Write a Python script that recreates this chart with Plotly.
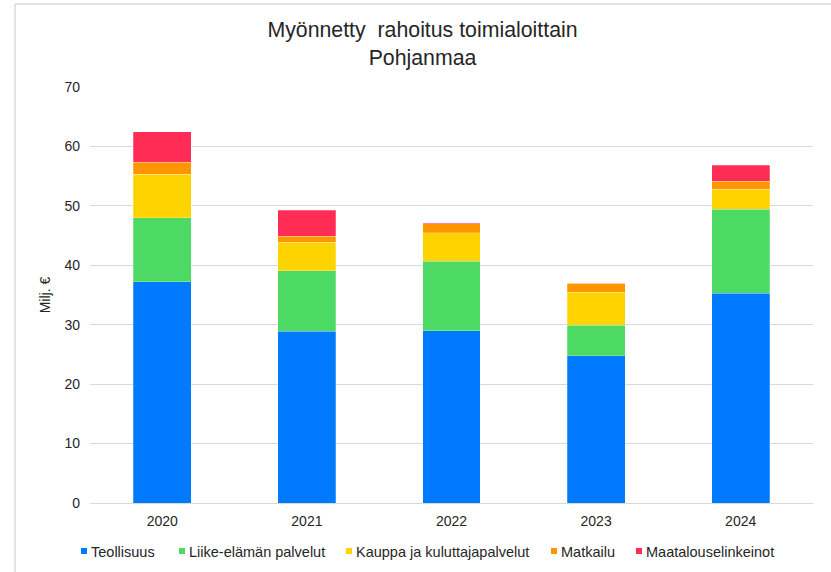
import plotly.graph_objects as go

years = ["2020", "2021", "2022", "2023", "2024"]
teollisuus = [37.2, 28.9, 29.0, 24.8, 35.3]
liike = [10.8, 10.2, 11.7, 5.1, 14.1]
kauppa = [7.3, 4.8, 4.8, 5.6, 3.4]
matkailu = [2.0, 1.0, 1.5, 1.5, 1.3]
maatalous = [5.2, 4.4, 0.1, 0.0, 2.7]

series_names = ["Teollisuus", "Liike-elämän palvelut", "Kauppa ja kuluttajapalvelut",
                "Matkailu", "Maatalouselinkeinot"]
series_values = [teollisuus, liike, kauppa, matkailu, maatalous]
colors = ["#007AFF", "#4CD964", "#FFD300", "#FF9500", "#FF2D55"]
y_ticks = [0, 10, 20, 30, 40, 50, 60, 70]

W, H = 831, 572
L, R, T, B = 90, 18, 87, 69
PW, PH = W - L - R, H - T - B


def px_x(p):
    return (p - L) / PW


def px_y(p):
    return (H - B - p) / PH


font_family = "Liberation Sans, Arial, sans-serif"
txt_col = "#262626"

fig = go.Figure()
for name, vals, col in zip(series_names, series_values, colors):
    fig.add_trace(go.Bar(
        x=years, y=vals, name=name, showlegend=False,
        marker=dict(color=col, line=dict(color="rgba(255,255,255,0.5)", width=0.5)),
    ))

# chart frame (only left and top edges are visible in the reference)
border = dict(color="#D9D9D9", width=1.5)
shapes = [
    dict(type="line", xref="paper", yref="paper", layer="above",
         x0=px_x(15), x1=px_x(W + 5), y0=px_y(4), y1=px_y(4), line=border),
    dict(type="line", xref="paper", yref="paper", layer="above",
         x0=px_x(15), x1=px_x(15), y0=px_y(4), y1=px_y(H + 5), line=border),
]

# manual legend (small square markers, tight spacing as in the reference)
legend_left = [81, 179, 346, 551, 636]
annotations = []
for name, col, lx in zip(series_names, colors, legend_left):
    shapes.append(dict(type="rect", xref="paper", yref="paper", layer="above",
                       x0=px_x(lx), x1=px_x(lx + 6), y0=px_y(554), y1=px_y(548),
                       line=dict(width=0), fillcolor=col))
    annotations.append(dict(text=name, xref="paper", yref="paper",
                            x=px_x(lx + 8), y=px_y(552), xanchor="left", yanchor="middle",
                            showarrow=False,
                            font=dict(family=font_family, size=14.5, color=txt_col)))

fig.update_layout(
    barmode="stack",
    bargap=0.6,
    width=W, height=H,
    paper_bgcolor="white", plot_bgcolor="white",
    margin=dict(l=L, r=R, t=T, b=B),
    font=dict(family=font_family, size=14, color=txt_col),
    title=dict(
        text="Myönnetty  rahoitus toimialoittain<br>Pohjanmaa",
        xref="container", x=422.5 / W, xanchor="center",
        yref="container", y=1 - 37 / H, yanchor="top",
        font=dict(family=font_family, size=21.3, color=txt_col),
    ),
    showlegend=False,
    yaxis=dict(
        range=[0, 70], tickvals=y_ticks, showgrid=True, gridcolor="#D9D9D9", gridwidth=1,
        zeroline=True, zerolinecolor="#D9D9D9", zerolinewidth=1,
        title=dict(text="Milj. €", font=dict(family=font_family, size=14, color=txt_col), standoff=10),
        ticklabelstandoff=9,
        tickfont=dict(family=font_family, size=14, color=txt_col),
    ),
    xaxis=dict(
        showline=False, showgrid=False,
        tickfont=dict(family=font_family, size=14, color=txt_col),
        ticklabelstandoff=8,
    ),
    shapes=shapes,
    annotations=annotations,
)

fig.write_html("out.html", config={"displayModeBar": False},
               post_script="document.body.style.margin='0px';")
